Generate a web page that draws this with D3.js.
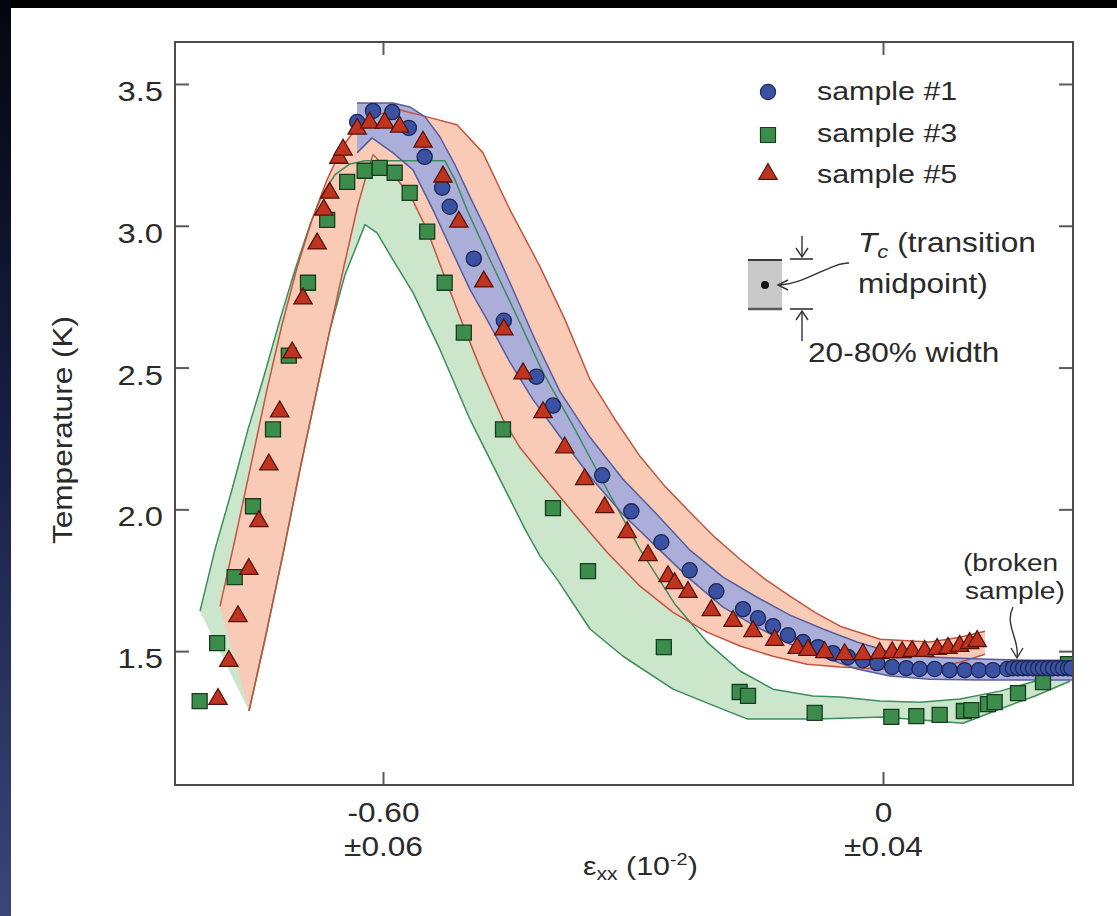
<!DOCTYPE html>
<html>
<head>
<meta charset="utf-8">
<script src="https://cdn.jsdelivr.net/npm/d3@7"></script>
<style>
  html, body { margin: 0; padding: 0; background: #000; }
  svg { display: block; }
</style>
</head>
<body>
<svg id="chart" width="1117" height="916"></svg>
<script>
// Strain eps_xx in units of 1e-2, temperature in K.
// Markers: transition midpoints Tc for each sample.
const sample1 = [
  [-0.631,3.366],[-0.612,3.405],[-0.589,3.401],[-0.569,3.345],[-0.550,3.243],[-0.529,3.134],
  [-0.520,3.067],[-0.491,2.884],[-0.455,2.665],[-0.416,2.468],[-0.396,2.366],[-0.337,2.120],
  [-0.302,1.993],[-0.266,1.884],[-0.232,1.785],[-0.200,1.711],[-0.168,1.648],[-0.150,1.616],
  [-0.132,1.588],[-0.114,1.556],[-0.096,1.532],[-0.078,1.514],[-0.060,1.493],[-0.042,1.479],
  [-0.024,1.468],[-0.007,1.458],[0.011,1.444],[0.028,1.440],[0.044,1.437],[0.062,1.437],
  [0.080,1.433],[0.098,1.433],[0.115,1.433],[0.132,1.433],[0.149,1.437],[0.156,1.440],
  [0.162,1.440],[0.168,1.440],[0.174,1.440],[0.180,1.440],[0.186,1.440],[0.192,1.440],
  [0.198,1.440],[0.204,1.440],[0.210,1.440],[0.216,1.440],[0.222,1.440],[0.226,1.440]
];
const sample3 = [
  [-0.820,1.324],[-0.799,1.528],[-0.778,1.761],[-0.756,2.011],[-0.732,2.282],[-0.713,2.542],
  [-0.690,2.799],[-0.667,3.021],[-0.643,3.155],[-0.622,3.194],[-0.604,3.204],[-0.586,3.187],
  [-0.568,3.116],[-0.547,2.979],[-0.526,2.799],[-0.503,2.623],[-0.456,2.282],[-0.396,2.004],
  [-0.354,1.782],[-0.263,1.514],[-0.172,1.356],[-0.162,1.342],[-0.082,1.282],[0.010,1.268],
  [0.040,1.271],[0.068,1.275],[0.097,1.289],[0.106,1.292],[0.126,1.313],[0.134,1.320],
  [0.162,1.352],[0.192,1.391],[0.222,1.454]
];
const sample5 = [
  [-0.798,1.331],[-0.785,1.465],[-0.774,1.623],[-0.761,1.789],[-0.749,1.958],[-0.737,2.158],
  [-0.724,2.345],[-0.709,2.553],[-0.696,2.743],[-0.679,2.937],[-0.671,3.056],[-0.664,3.116],
  [-0.653,3.239],[-0.648,3.268],[-0.631,3.342],[-0.616,3.363],[-0.598,3.363],[-0.580,3.349],
  [-0.552,3.296],[-0.528,3.173],[-0.509,3.014],[-0.479,2.803],[-0.455,2.634],[-0.432,2.479],
  [-0.408,2.342],[-0.382,2.218],[-0.358,2.106],[-0.334,2.007],[-0.307,1.919],[-0.282,1.838],
  [-0.258,1.764],[-0.250,1.739],[-0.234,1.708],[-0.206,1.644],[-0.180,1.606],[-0.156,1.570],
  [-0.130,1.539],[-0.103,1.511],[-0.090,1.504],[-0.070,1.496],[-0.046,1.489],[-0.024,1.489],
  [-0.004,1.493],[0.011,1.496],[0.023,1.496],[0.035,1.500],[0.050,1.500],[0.065,1.507],
  [0.078,1.511],[0.092,1.518],[0.104,1.528],[0.113,1.535]
];

// 20-80% transition width bands: upper (80%) and lower (20%) edges.
const band1Upper = [
  [-0.6312,3.433],[-0.5880,3.433],[-0.5676,3.419],[-0.5496,3.384],[-0.5316,3.313],[-0.5136,3.215],
  [-0.4956,3.102],[-0.4752,2.979],[-0.4476,2.799],[-0.4176,2.599],[-0.3876,2.415],[-0.3516,2.254],
  [-0.3120,2.106],[-0.2712,1.982],[-0.2316,1.856],[-0.1920,1.761],[-0.1512,1.690],[-0.1116,1.627],
  [-0.0720,1.578],[-0.0312,1.532],[0.0084,1.497],[0.0564,1.479],[0.1164,1.472],[0.1764,1.468],
  [0.2280,1.468]
];
const band1Lower = [
  [-0.6312,3.257],[-0.6132,3.310],[-0.5880,3.257],[-0.5640,3.197],[-0.5400,3.056],[-0.5196,2.926],
  [-0.4956,2.775],[-0.4752,2.669],[-0.4476,2.518],[-0.4200,2.387],[-0.3876,2.257],[-0.3516,2.116],
  [-0.3120,1.982],[-0.2712,1.866],[-0.2316,1.754],[-0.1920,1.655],[-0.1512,1.585],[-0.1116,1.525],
  [-0.0720,1.479],[-0.0312,1.437],[0.0084,1.412],[0.0564,1.401],[0.1164,1.398],[0.1764,1.398],
  [0.2280,1.398]
];
const band3Upper = [
  [-0.8196,1.641],[-0.8016,1.859],[-0.7812,2.070],[-0.7620,2.282],[-0.7440,2.458],[-0.7236,2.669],
  [-0.7056,2.845],[-0.6876,3.004],[-0.6732,3.109],[-0.6576,3.180],[-0.6396,3.218],[-0.6216,3.229],
  [-0.5256,3.229],[-0.5136,3.162],[-0.4992,3.056],[-0.4716,2.880],[-0.4392,2.680],[-0.4080,2.482],
  [-0.3696,2.282],[-0.3312,2.070],[-0.2916,1.859],[-0.2496,1.665],[-0.2112,1.532],[-0.1716,1.430],
  [-0.1320,1.366],[-0.0840,1.342],[-0.0516,1.338],[-0.0036,1.324],[0.0444,1.320],[0.0924,1.331],
  [0.1404,1.359],[0.1824,1.394],[0.2244,1.465]
];
const band3Lower = [
  [-0.7608,1.289],[-0.7416,1.542],[-0.7200,1.842],[-0.6996,2.141],[-0.6792,2.423],[-0.6636,2.634],
  [-0.6456,2.827],[-0.6312,2.933],[-0.6216,3.004],[-0.6072,2.975],[-0.5880,2.880],[-0.5640,2.764],
  [-0.5316,2.563],[-0.4956,2.317],[-0.4596,2.106],[-0.4296,1.930],[-0.4116,1.835],[-0.3912,1.754],
  [-0.3516,1.578],[-0.3120,1.482],[-0.2520,1.366],[-0.2076,1.313],[-0.1632,1.261],[-0.0792,1.261],
  [0.0000,1.268],[0.0960,1.246],[0.1404,1.296],[0.1824,1.342],[0.2244,1.394]
];
const band5Upper = [
  [-0.7956,1.658],[-0.7776,1.894],[-0.7596,2.141],[-0.7392,2.423],[-0.7212,2.651],[-0.7032,2.852],
  [-0.6852,3.021],[-0.6672,3.162],[-0.6492,3.275],[-0.6312,3.349],[-0.6096,3.391],[-0.5796,3.408],
  [-0.5472,3.384],[-0.5112,3.356],[-0.4800,3.257],[-0.4476,3.056],[-0.4116,2.856],[-0.3816,2.669],
  [-0.3516,2.458],[-0.3216,2.317],[-0.2916,2.187],[-0.2616,2.081],[-0.2316,1.990],[-0.2016,1.901],
  [-0.1716,1.824],[-0.1416,1.754],[-0.1116,1.694],[-0.0816,1.637],[-0.0516,1.588],[-0.0036,1.542],
  [0.0564,1.532],[0.0924,1.549],[0.1224,1.570]
];
const band5Lower = [
  [-0.7608,1.289],[-0.7416,1.542],[-0.7200,1.842],[-0.6996,2.141],[-0.6792,2.423],[-0.6636,2.634],
  [-0.6456,2.873],[-0.6300,3.074],[-0.6180,3.197],[-0.6120,3.250],[-0.5880,3.180],[-0.5676,3.109],
  [-0.5472,2.986],[-0.5256,2.817],[-0.5028,2.641],[-0.4800,2.475],[-0.4560,2.317],[-0.4356,2.218],
  [-0.4116,2.130],[-0.3720,1.989],[-0.3312,1.849],[-0.2916,1.729],[-0.2520,1.637],[-0.2112,1.567],
  [-0.1716,1.518],[-0.1320,1.482],[-0.0912,1.454],[-0.0516,1.444],[-0.0036,1.437],[0.0564,1.440],
  [0.0924,1.461],[0.1224,1.489]
];

// Axis ticks and labels
const yTicks = [1.5, 2.0, 2.5, 3.0, 3.5];
const xTicks = [-0.60, 0];
const xTickLabels = ["-0.60", "0"];
const xTickErrors = ["\u00b10.06", "\u00b10.04"];
const legendLabels = ["sample #1", "sample #3", "sample #5"];

const FONT = "'Liberation Sans', Arial, Helvetica, sans-serif";
const SX = 1.17; // horizontal stretch of the lettering

const svg = d3.select("#chart");
const plot = { left: 175, top: 42, right: 1073, bottom: 785 };

const x = d3.scaleLinear().domain([-0.8496, 0.228]).range([plot.left, plot.right]);
const y = d3.scaleLinear().domain([1.028, 3.648]).range([plot.bottom, plot.top]);

// ---- slide background ----
const defs = svg.append("defs");
const grad = defs.append("linearGradient").attr("id", "edgeGlow")
  .attr("x1", 0).attr("y1", 0).attr("x2", 0).attr("y2", 1);
grad.append("stop").attr("offset", "0%").attr("stop-color", "#05060e");
grad.append("stop").attr("offset", "45%").attr("stop-color", "#161d42");
grad.append("stop").attr("offset", "100%").attr("stop-color", "#3a4677");
svg.append("rect").attr("width", 1117).attr("height", 916).attr("fill", "#000");
svg.append("rect").attr("x", 0).attr("y", 0).attr("width", 11).attr("height", 916).attr("fill", "url(#edgeGlow)");
svg.append("rect").attr("x", 11).attr("y", 8).attr("width", 1106).attr("height", 908).attr("fill", "#fff");

defs.append("clipPath").attr("id", "plotClip").append("rect")
  .attr("x", plot.left).attr("y", plot.top)
  .attr("width", plot.right - plot.left).attr("height", plot.bottom - plot.top);

// ---- bands ----
const line = d3.line().x(d => x(d[0])).y(d => y(d[1]));
function bandPath(upper, lower) {
  return line(upper.concat(lower.slice().reverse())) + "Z";
}
const bands = [
  { upper: band3Upper, lower: band3Lower, fill: "#cbe6cb", stroke: "#3b8d5a" },
  { upper: band5Upper, lower: band5Lower, fill: "#f9cbb7", stroke: "#c0563f" },
  { upper: band1Upper, lower: band1Lower, fill: "#aaaed9", stroke: "#585d9c" }
];
const bandG = svg.append("g").attr("clip-path", "url(#plotClip)");
bands.forEach(b => {
  bandG.append("path").attr("d", bandPath(b.upper, b.lower)).attr("fill", b.fill);
});
bands.forEach(b => {
  [b.upper, b.lower].forEach(edge => {
    bandG.append("path").attr("d", line(edge)).attr("fill", "none")
      .attr("stroke", b.stroke).attr("stroke-width", 1.5).attr("stroke-linejoin", "round");
  });
});

// ---- markers ----
const symCircle = d3.symbol().type(d3.symbolCircle).size(Math.PI * 7.6 * 7.6);
const symSquare = d3.symbol().type(d3.symbolSquare).size(15 * 15);
const symTriangle = d3.symbol().type(d3.symbolTriangle).size(145);

const markG = svg.append("g").attr("clip-path", "url(#plotClip)");
function drawMarkers(data, sym, fill, stroke) {
  markG.append("g").selectAll("path").data(data).join("path")
    .attr("transform", d => `translate(${x(d[0])},${y(d[1])})`)
    .attr("d", sym())
    .attr("fill", fill).attr("stroke", stroke).attr("stroke-width", 1.3);
}
drawMarkers(sample3, symSquare, "#3c8c4c", "#183c20");
drawMarkers(sample1, symCircle, "#3b52a2", "#1c2756");
drawMarkers(sample5, symTriangle, "#c0341f", "#56120a");

// ---- axes ----
const axisColor = "#4c4c4c";
function styleAxis(g) {
  g.select(".domain").remove();
  g.selectAll(".tick line").attr("stroke", "#5a5a5a").attr("stroke-width", 2);
}
const yAxisLeft = svg.append("g").attr("transform", `translate(${plot.left},0)`)
  .call(d3.axisLeft(y).tickValues(yTicks).tickSize(-14).tickPadding(0).tickFormat(d3.format(".1f")));
styleAxis(yAxisLeft);
yAxisLeft.selectAll(".tick text")
  .attr("x", null).attr("dy", null)
  .attr("transform", `translate(-12,16.5) scale(${SX},1)`)
  .attr("font-family", FONT).attr("font-size", 28).attr("fill", "#2a2a2a")
  .attr("text-anchor", "end");

const yAxisRight = svg.append("g").attr("transform", `translate(${plot.right},0)`)
  .call(d3.axisRight(y).tickValues(yTicks).tickSize(-14).tickFormat(""));
styleAxis(yAxisRight);

const xAxisTop = svg.append("g").attr("transform", `translate(0,${plot.top})`)
  .call(d3.axisTop(x).tickValues(xTicks).tickSize(-13).tickFormat(""));
styleAxis(xAxisTop);

const xAxisBottom = svg.append("g").attr("transform", `translate(0,${plot.bottom})`)
  .call(d3.axisBottom(x).tickValues(xTicks).tickSize(-13).tickFormat(""));
styleAxis(xAxisBottom);
xAxisBottom.selectAll(".tick").each(function(d, i) {
  const t = d3.select(this);
  t.append("text").attr("transform", `translate(0,37) scale(${SX},1)`)
    .attr("text-anchor", "middle").attr("font-family", FONT).attr("font-size", 27)
    .attr("fill", "#2a2a2a").text(xTickLabels[i]);
  t.append("text").attr("transform", `translate(0,71) scale(${SX},1)`)
    .attr("text-anchor", "middle").attr("font-family", FONT).attr("font-size", 27)
    .attr("fill", "#2a2a2a").text(xTickErrors[i]);
});

// frame
svg.append("rect")
  .attr("x", plot.left).attr("y", plot.top)
  .attr("width", plot.right - plot.left).attr("height", plot.bottom - plot.top)
  .attr("fill", "none").attr("stroke", axisColor).attr("stroke-width", 2);

// axis titles
function stretched(xp, yp, extra) {
  return svg.append("text")
    .attr("transform", `translate(${xp},${yp}) ${extra || ""} scale(${SX},1)`)
    .attr("font-family", FONT).attr("fill", "#2a2a2a");
}
stretched(72, 430, "rotate(-90)").attr("text-anchor", "middle").attr("font-size", 27)
  .text("Temperature (K)");

const xTitle = stretched(583, 875).attr("font-size", 26);
xTitle.append("tspan").text("\u03b5");
xTitle.append("tspan").attr("font-size", 18).attr("dy", 5).text("xx");
xTitle.append("tspan").attr("dy", -5).text(" (10");
xTitle.append("tspan").attr("font-size", 17).attr("dy", -10).text("-2");
xTitle.append("tspan").attr("dy", 10).text(")");

// ---- legend ----
const legendSyms = [
  { sym: symCircle, fill: "#3b52a2", stroke: "#1c2756", cy: 92 },
  { sym: symSquare, fill: "#3c8c4c", stroke: "#183c20", cy: 135 },
  { sym: symTriangle, fill: "#c0341f", stroke: "#56120a", cy: 174 }
];
const legendBaselines = [100, 142, 183];
legendLabels.forEach((lab, i) => {
  const s = legendSyms[i];
  svg.append("path").attr("transform", `translate(768,${s.cy})`)
    .attr("d", s.sym()).attr("fill", s.fill).attr("stroke", s.stroke).attr("stroke-width", 1.2);
  stretched(817, legendBaselines[i]).attr("font-size", 26).text(lab);
});

// ---- Tc / width key ----
const key = svg.append("g");
key.append("rect").attr("x", 748).attr("y", 260).attr("width", 34).attr("height", 49).attr("fill", "#c9c9c9");
key.append("line").attr("x1", 748).attr("x2", 782).attr("y1", 260).attr("y2", 260).attr("stroke", "#3a3a3a").attr("stroke-width", 2);
key.append("line").attr("x1", 748).attr("x2", 782).attr("y1", 309).attr("y2", 309).attr("stroke", "#5a5a5a").attr("stroke-width", 2.5);
key.append("circle").attr("cx", 765).attr("cy", 285).attr("r", 4).attr("fill", "#111");
const kStroke = "#333";
// down arrow onto the 80% level
key.append("line").attr("x1", 790).attr("x2", 813).attr("y1", 259).attr("y2", 259).attr("stroke", kStroke).attr("stroke-width", 1.6);
key.append("line").attr("x1", 802).attr("x2", 802).attr("y1", 236).attr("y2", 257).attr("stroke", kStroke).attr("stroke-width", 1.4);
key.append("path").attr("d", "M796,248 L802,257 L808,248").attr("fill", "none").attr("stroke", kStroke).attr("stroke-width", 1.4);
// up arrow onto the 20% level
key.append("line").attr("x1", 790).attr("x2", 813).attr("y1", 309).attr("y2", 309).attr("stroke", kStroke).attr("stroke-width", 1.6);
key.append("line").attr("x1", 802).attr("x2", 802).attr("y1", 311).attr("y2", 341).attr("stroke", kStroke).attr("stroke-width", 1.4);
key.append("path").attr("d", "M796,320 L802,311 L808,320").attr("fill", "none").attr("stroke", kStroke).attr("stroke-width", 1.4);
// curved pointer to the midpoint
key.append("path").attr("d", "M849,263 C830,263 808,283 779,285").attr("fill", "none").attr("stroke", kStroke).attr("stroke-width", 1.4);
key.append("path").attr("d", "M788,280 L778,285 L788,290").attr("fill", "none").attr("stroke", kStroke).attr("stroke-width", 1.4);

const tcText = stretched(858, 252).attr("font-size", 27);
tcText.append("tspan").attr("font-style", "italic").text("T");
tcText.append("tspan").attr("font-style", "italic").attr("font-size", 19).attr("dy", 6).text("c");
tcText.append("tspan").attr("dy", -6).text(" (transition");
stretched(858, 293).attr("font-size", 27).text("midpoint)");
stretched(808, 362).attr("font-size", 27).text("20-80% width");

// ---- broken sample note ----
stretched(963, 571).attr("font-size", 24).text("(broken");
stretched(965, 599).attr("font-size", 24).text("sample)");
svg.append("path").attr("d", "M1013,607 C1004,625 1020,640 1017,657").attr("fill", "none").attr("stroke", kStroke).attr("stroke-width", 1.4);
svg.append("path").attr("d", "M1011,648 L1017,658 L1023,648").attr("fill", "none").attr("stroke", kStroke).attr("stroke-width", 1.4);
</script>
</body>
</html>
